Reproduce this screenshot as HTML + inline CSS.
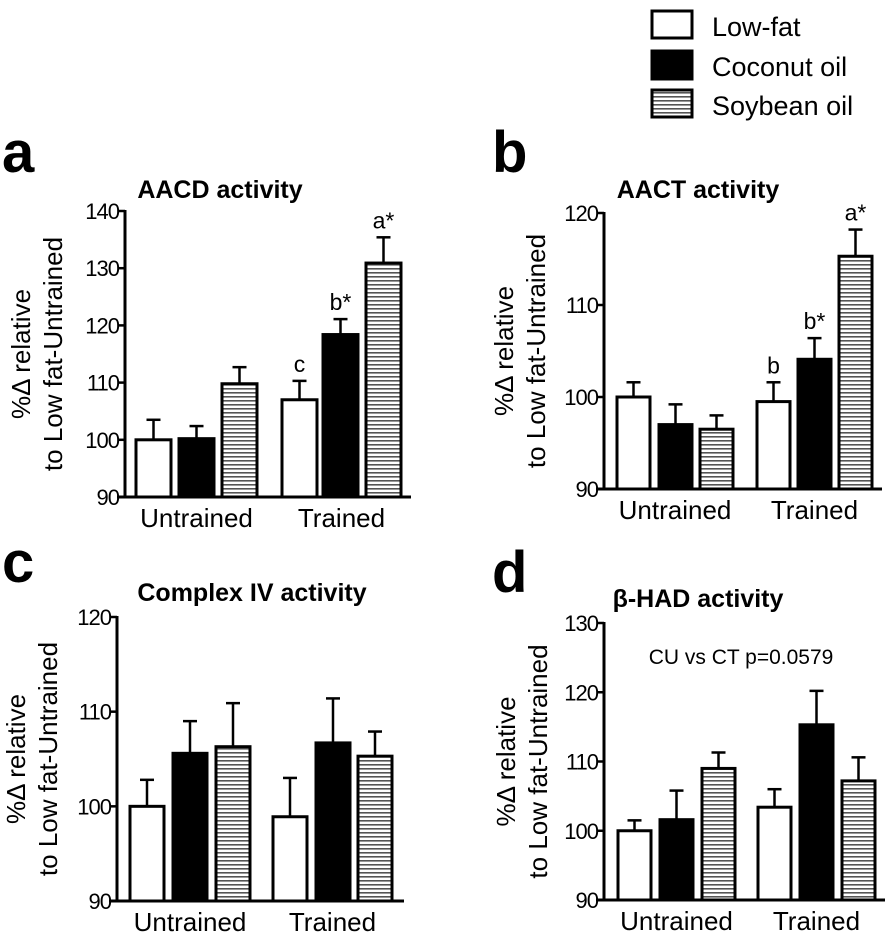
<!DOCTYPE html>
<html><head><meta charset="utf-8"><style>
html,body{margin:0;padding:0;background:#fff;}
svg{display:block;font-family:"Liberation Sans",Arial,sans-serif;}
</style></head><body>
<svg id="chart" width="894" height="938" viewBox="0 0 894 938">
<defs>
<pattern id="stripes" width="6" height="4" patternUnits="userSpaceOnUse">
<rect width="6" height="4" fill="#fff"/><rect y="0" width="6" height="1.6" fill="#555"/>
</pattern>
</defs>
<g>
<g><rect x="652" y="11" width="40" height="27" fill="#fff" stroke="#000" stroke-width="3"/><text x="712" y="36" font-size="27">Low-fat</text></g>
<g><rect x="652" y="51" width="40" height="28" fill="#000" stroke="#000" stroke-width="3"/><text x="712" y="76" font-size="27">Coconut oil</text></g>
<g><rect x="652" y="90" width="40" height="27" fill="url(#stripes)" stroke="#000" stroke-width="3"/><text x="712" y="115" font-size="27">Soybean oil</text></g>
</g>
</svg>
<script>
const categories = ["Untrained", "Trained"];
const series = ["Low-fat", "Coconut oil", "Soybean oil"];
const aMeans = [[100, 100.2, 109.8], [107, 118.4, 130.9]];
const aErr = [[3.5, 2.2, 2.9], [3.3, 2.7, 4.5]];
const aLabels = [["", "", ""], ["c", "b*", "a*"]];
const aTicks = [90, 100, 110, 120, 130, 140];
const bMeans = [[100, 97, 96.5], [99.5, 104.1, 115.3]];
const bErr = [[1.6, 2.2, 1.5], [2.1, 2.3, 2.9]];
const bLabels = [["", "", ""], ["b", "b*", "a*"]];
const bTicks = [90, 100, 110, 120];
const cMeans = [[100, 105.6, 106.3], [98.9, 106.7, 105.3]];
const cErr = [[2.8, 3.4, 4.6], [4.1, 4.7, 2.6]];
const cTicks = [90, 100, 110, 120];
const dMeans = [[100, 101.6, 109], [103.4, 115.3, 107.2]];
const dErr = [[1.5, 4.2, 2.3], [2.6, 4.9, 3.4]];
const dTicks = [90, 100, 110, 120, 130];

const NS = "http://www.w3.org/2000/svg";
const svg = document.getElementById("chart");
function mk(tag, attrs, parent, text) {
  const e = document.createElementNS(NS, tag);
  for (const k in attrs) e.setAttribute(k, attrs[k]);
  if (text !== undefined) e.textContent = text;
  parent.appendChild(e);
  return e;
}
const fills = ["#fff", "#000", "url(#stripes)"];
function panel(p) {
  const g = mk("g", {}, svg);
  
  
  const ymin = p.ticks[0], ymax = p.ticks[p.ticks.length - 1];
  const y = v => p.y0 + (v - ymin) / (ymax - ymin) * (p.y1 - p.y0);
  const lt = mk("text", {x: p.letterX, y: p.letterY, "font-size": 58, "font-weight": "bold"}, g, p.id);
  
  
  const tt = mk("text", {x: p.titleX, y: p.titleY, "font-size": 25, "font-weight": "bold", "text-anchor": "middle"}, g, p.title);
  
  
  const ym = (p.y0 + p.y1) / 2;
  const yl = mk("text", {transform: "translate(" + p.ylX + "," + ym + ") rotate(-90)", "font-size": 26, "text-anchor": "middle"}, g);
  
  
  mk("tspan", {x: 0, dy: 0}, yl, "%\u0394 relative");
  mk("tspan", {x: 0, dy: 32}, yl, "to Low fat-Untrained");
  for (let c = 0; c < 2; c++) {
    for (let s = 0; s < 3; s++) {
      const x = p.bx[c * 3 + s], w = p.bw;
      const v = p.means[c][s], e = p.err[c][s];
      const top = y(v), et = y(v + e), cx = x + w / 2;
      const eb = mk("line", {x1: cx, x2: cx, y1: et, y2: top, stroke: "#000", "stroke-width": 2.5}, g);
      
      
      const cap = mk("line", {x1: cx - 7, x2: cx + 7, y1: et, y2: et, stroke: "#000", "stroke-width": 2.5}, g);
      
      
      const r = mk("rect", {x: x, y: top, width: w, height: p.y0 - top, fill: fills[s], stroke: "#000", "stroke-width": 3}, g);
      
      
      if (p.labels && p.labels[c][s]) {
        const lb = mk("text", {x: cx, y: et - 9, "font-size": 23, "text-anchor": "middle"}, g, p.labels[c][s]);
        
        
      }
    }
    const gx = (p.bx[c * 3] + p.bx[c * 3 + 2] + p.bw) / 2;
    const ct = mk("text", {x: gx, y: p.y0 + 30, "font-size": 26, "text-anchor": "middle"}, g, categories[c]);
    
    
  }
  const ya = mk("line", {x1: p.ax, x2: p.ax, y1: p.y1 - 1, y2: p.y0 + 1.5, stroke: "#000", "stroke-width": 3}, g);
  
  
  const xa = mk("line", {x1: p.ax - 8, x2: p.axEnd, y1: p.y0, y2: p.y0, stroke: "#000", "stroke-width": 3}, g);
  
  
  p.ticks.forEach(t => {
    const ty = y(t);
    const tk = mk("line", {x1: p.ax - 7, x2: p.ax, y1: ty, y2: ty, stroke: "#000", "stroke-width": 2.5}, g);
    
    
    const tl = mk("text", {x: p.ax - 6, y: ty + 8, "font-size": 22, "text-anchor": "end", "letter-spacing": "-1"}, g, String(t));
    
    
  });
  if (p.note) {
    const n = mk("text", {x: p.note[0], y: p.note[1], "font-size": 21, "text-anchor": "middle"}, g, p.note[2]);
    
    
  }
}
panel({id: "a", title: "AACD activity", means: aMeans, err: aErr, labels: aLabels, ticks: aTicks,
  ax: 125, axEnd: 411, y0: 497, y1: 211, bx: [136, 179, 222, 282, 323, 366], bw: 35,
  letterX: 2, letterY: 172, titleX: 220, titleY: 198, ylX: 30});
panel({id: "b", title: "AACT activity", means: bMeans, err: bErr, labels: bLabels, ticks: bTicks,
  ax: 604, axEnd: 882, y0: 489, y1: 213, bx: [617, 659, 700, 757, 798, 839], bw: 33,
  letterX: 492, letterY: 172, titleX: 698, titleY: 198, ylX: 513});
panel({id: "c", title: "Complex IV activity", means: cMeans, err: cErr, ticks: cTicks,
  ax: 117, axEnd: 404, y0: 901, y1: 617, bx: [130, 173, 216, 273, 316, 358], bw: 34,
  letterX: 2, letterY: 582, titleX: 252, titleY: 601, ylX: 25});
panel({id: "d", title: "\u03B2-HAD activity", means: dMeans, err: dErr, ticks: dTicks,
  ax: 604, axEnd: 885, y0: 900, y1: 623, bx: [618, 660, 702, 758, 800, 842], bw: 33,
  letterX: 492, letterY: 592, titleX: 698, titleY: 607, ylX: 515,
  note: [741, 664, "CU vs CT p=0.0579"]});
</script>
</body></html>
